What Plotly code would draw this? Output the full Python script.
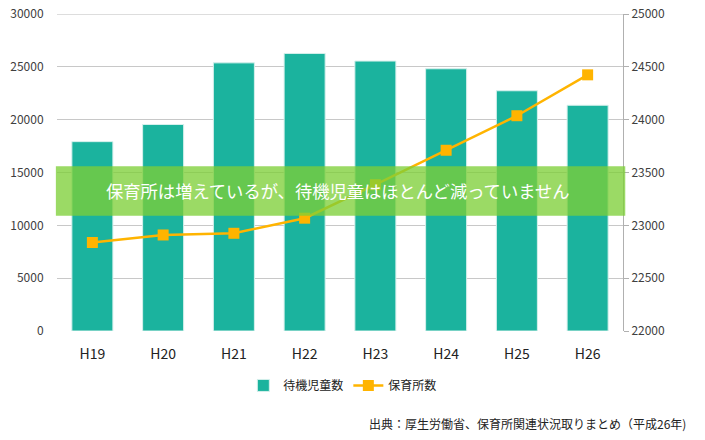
import plotly.graph_objects as go

categories = ["H19", "H20", "H21", "H22", "H23", "H24", "H25", "H26"]
waiting_children = [17926, 19550, 25384, 26275, 25556, 24825, 22741, 21371]
nursery_count = [22838, 22909, 22925, 23068, 23385, 23711, 24038, 24425]
left_ticks = [0, 5000, 10000, 15000, 20000, 25000, 30000]
right_ticks = [22000, 22500, 23000, 23500, 24000, 24500, 25000]

FONT = "Noto Sans CJK JP"
GRID = "#c8c8c8"

fig = go.Figure()
fig.add_trace(go.Bar(
    x=categories, y=waiting_children, name="待機児童数",
    marker=dict(color="#1BB39E", line=dict(color="#d6f0ec", width=1)),
    yaxis="y",
))
fig.add_trace(go.Scatter(
    x=categories, y=nursery_count, name="保育所数",
    mode="lines+markers",
    line=dict(color="#FFB400", width=2.5),
    marker=dict(symbol="square", size=11, color="#FFB400"),
    yaxis="y2",
))

# top gridline (edge gridline is not drawn by plotly)
fig.add_shape(type="line", xref="paper", yref="y", x0=0, x1=1,
              y0=left_ticks[-1], y1=left_ticks[-1],
              line=dict(color=GRID, width=1), layer="below")
fig.add_shape(type="rect", xref="paper", yref="y", x0=-0.002, x1=1.004,
              y0=10900, y1=15600, fillcolor="rgba(125,207,54,0.77)",
              line=dict(width=0), layer="above")
fig.add_annotation(xref="paper", yref="y", x=0.495, y=13300,
                   text="保育所は増えているが、待機児童はほとんど減っていません",
                   showarrow=False, font=dict(family=FONT, size=17.3, color="white"))
fig.add_annotation(xref="paper", yref="paper", x=1.115, y=-0.293,
                   xanchor="right", yanchor="middle",
                   text="出典：厚生労働省、保育所関連状況取りまとめ（平成26年)",
                   showarrow=False, font=dict(family=FONT, size=12, color="#222222"))

fig.update_layout(
    width=705, height=440,
    margin=dict(l=57, r=82, t=14, b=109, autoexpand=False),
    paper_bgcolor="white", plot_bgcolor="white",
    font=dict(family=FONT, size=12, color="#404040"),
    bargap=0.42,
    showlegend=True,
    legend=dict(orientation="h", x=0.505, xanchor="center", y=-0.126, yanchor="top",
                font=dict(family=FONT, size=12, color="#222222")),
    xaxis=dict(showgrid=False, showline=False, ticks="outside", ticklen=10,
               tickcolor="rgba(0,0,0,0)",
               tickfont=dict(family=FONT, size=14, color="#222222")),
    yaxis=dict(range=[0, 30010], tickvals=left_ticks,
               ticktext=[str(v) for v in left_ticks], showgrid=True,
               gridcolor=GRID, gridwidth=1, zeroline=False, showline=False,
               ticks="outside", ticklen=10, tickcolor="rgba(0,0,0,0)",
               tickfont=dict(family=FONT, size=12, color="#404040")),
    yaxis2=dict(range=[22000, 25001], tickvals=right_ticks,
                ticktext=[str(v) for v in right_ticks], overlaying="y", side="right",
                showgrid=False, zeroline=False, showline=True, linecolor="#b0b0b0",
                ticks="outside", ticklen=5, tickcolor="#b0b0b0",
                tickfont=dict(family=FONT, size=12, color="#404040")),
)

fig.write_html("out.html", config={"displayModeBar": False},
               post_script="document.body.style.margin='0';")
